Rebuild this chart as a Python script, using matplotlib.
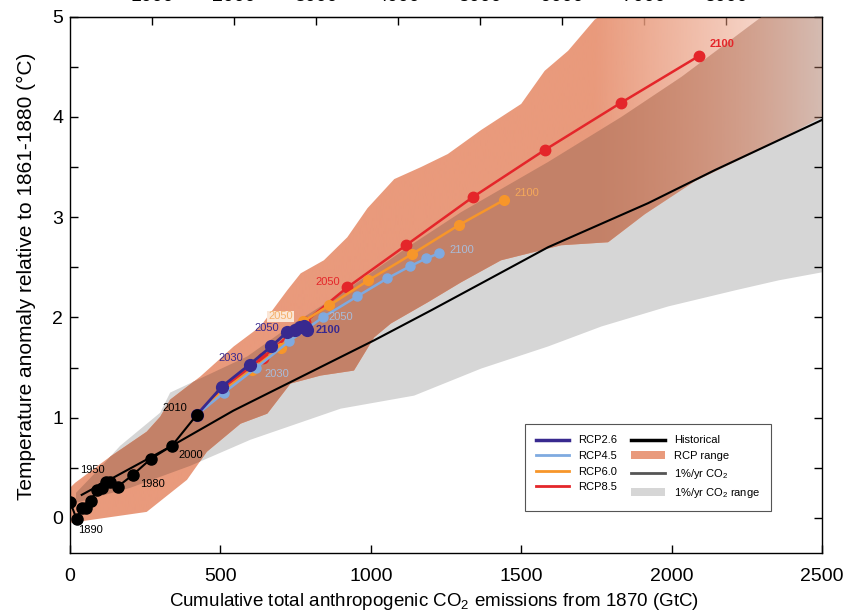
import numpy as np
import matplotlib.pyplot as plt
from matplotlib.lines import Line2D
from matplotlib.patches import Patch
from matplotlib.ticker import MultipleLocator

plt.rcParams['font.family'] = ['Liberation Sans', 'DejaVu Sans']
plt.rcParams['mathtext.default'] = 'regular'

# historical decadal points (GtC, degC)
hist_x = [0, 22, 39, 53, 69, 89, 106, 120, 133, 158, 209, 269, 339, 422]
hist_y = [0.16, -0.01, 0.10, 0.10, 0.17, 0.28, 0.30, 0.36, 0.36, 0.31, 0.43, 0.59, 0.72, 1.03]

# RCP scenarios, decades 2010-2100
rcp26_x = [422, 505, 597, 669, 720, 748, 765, 778, 785, 787]
rcp26_y = [1.03, 1.31, 1.53, 1.71, 1.85, 1.87, 1.90, 1.91, 1.89, 1.87]
rcp45_x = [422, 512, 620, 728, 840, 955, 1055, 1130, 1185, 1228]
rcp45_y = [1.03, 1.25, 1.50, 1.76, 2.00, 2.21, 2.39, 2.51, 2.59, 2.64]
rcp60_x = [422, 510, 605, 700, 775, 862, 992, 1136, 1292, 1442]
rcp60_y = [1.03, 1.27, 1.48, 1.70, 1.96, 2.12, 2.37, 2.63, 2.92, 3.17]
rcp85_x = [422, 510, 640, 780, 922, 1117, 1339, 1578, 1831, 2092]
rcp85_y = [1.03, 1.30, 1.60, 1.95, 2.30, 2.72, 3.20, 3.67, 4.14, 4.61]

# 1%/yr CO2 model mean
pct_x = [39, 339, 543, 1010, 1200, 1367, 1589, 1922, 2144, 2500]
pct_y = [0.23, 0.72, 1.07, 1.77, 2.07, 2.34, 2.70, 3.14, 3.47, 3.97]

# RCP range edges
rcp_hi_x = [0, 17, 133, 255, 300, 333, 433, 544, 633, 722, 767, 844, 922, 989, 1078, 1167,
            1256, 1367, 1500, 1578, 1656, 1744, 2500]
rcp_hi_y = [0.30, 0.35, 0.61, 0.86, 1.01, 1.18, 1.41, 1.71, 1.91, 2.27, 2.44, 2.57, 2.80, 3.09,
            3.38, 3.50, 3.63, 3.87, 4.13, 4.46, 4.66, 4.97, 6.5]
rcp_lo_x = [0, 139, 255, 389, 455, 567, 656, 733, 833, 944, 1011, 1067, 1189, 1300, 1433, 1633,
            1789, 1911, 2078, 2300, 2500]
rcp_lo_y = [-0.05, 0.01, 0.06, 0.38, 0.66, 0.94, 1.04, 1.34, 1.42, 1.47, 1.80, 1.94, 2.15, 2.35,
            2.57, 2.72, 2.75, 3.03, 3.36, 3.68, 4.00]

# 1%/yr CO2 range edges
pct_hi_x = [20, 100, 167, 300, 333, 411, 589, 744, 922, 1122, 1300, 1589, 1833, 2033, 2300, 2500]
pct_hi_y = [0.25, 0.50, 0.72, 1.05, 1.25, 1.36, 1.61, 1.94, 2.28, 2.70, 3.05, 3.55, 4.00, 4.40,
            5.00, 5.40]
pct_lo_x = [20, 200, 400, 600, 900, 1144, 1367, 1589, 1767, 1989, 2211, 2356, 2500]
pct_lo_y = [0.15, 0.30, 0.52, 0.78, 1.09, 1.22, 1.49, 1.71, 1.91, 2.11, 2.27, 2.37, 2.45]

top_ticks = [1000, 2000, 3000, 4000, 5000, 6000, 7000, 8000, 9000]
top_labels = ['1000', '2000', '3000', '4000', '5000', '6000', '7000', '8000', '']

c26 = '#38298F'
c45 = '#7FAAE0'
c60 = '#F7962A'
c85 = '#E4262A'
salmon = np.array([233, 154, 124]) / 255
grey = np.array([214, 214, 214]) / 255

fig = plt.figure(figsize=(8.52, 6.13), dpi=100)
ax = fig.add_axes([70 / 852, 1 - 553 / 613, 752 / 852, 536.3 / 613])

# grey plume
ax.fill(np.r_[pct_lo_x, pct_hi_x[::-1]], np.r_[pct_lo_y, pct_hi_y[::-1]],
        color=grey, lw=0, zorder=1)

# RCP plume, fading out towards the right
fade_x = np.linspace(0, 2500, 600)
fade = np.clip(1 - 0.8 * (fade_x - 1750) / 750, 0.2, 1)
poly_s = ax.fill(np.r_[rcp_lo_x, rcp_hi_x[::-1]], np.r_[rcp_lo_y, rcp_hi_y[::-1]],
                 facecolor='none', edgecolor='none')[0]
img = np.zeros((1, len(fade_x), 4))
img[..., :3] = salmon
img[..., 3] = fade
im = ax.imshow(img, extent=(0, 2500, -1, 7), aspect='auto', zorder=2, interpolation='bilinear')
im.set_clip_path(poly_s)

# overlap of the two plumes (multiplied colour)
xg = np.linspace(pct_lo_x[0], 2500, 1200)
lo = np.maximum(np.interp(xg, rcp_lo_x, rcp_lo_y), np.interp(xg, pct_lo_x, pct_lo_y))
hi = np.minimum(np.interp(xg, rcp_hi_x, rcp_hi_y), np.interp(xg, pct_hi_x, pct_hi_y))
hi = np.maximum(hi, lo)
poly_o = ax.fill_between(xg, lo, hi, facecolor='none', edgecolor='none')
img2 = img.copy()
img2[..., :3] = salmon * grey
im2 = ax.imshow(img2, extent=(0, 2500, -1, 7), aspect='auto', zorder=3, interpolation='bilinear')
im2.set_clip_path(poly_o.get_paths()[0], ax.transData)

ax.plot(pct_x, pct_y, color='black', lw=1.5, zorder=4)

ax.plot(rcp85_x, rcp85_y, '-o', color=c85, lw=1.8, ms=7.5, zorder=5)
ax.plot(rcp60_x, rcp60_y, '-o', color=c60, lw=1.8, ms=7, zorder=5.1)
ax.plot(rcp45_x, rcp45_y, '-o', color=c45, lw=1.8, ms=6.5, zorder=5.2)
ax.plot(rcp26_x, rcp26_y, '-o', color=c26, lw=2, ms=8.5, zorder=5.3)
ax.plot(hist_x, hist_y, '-o', color='black', lw=1.5, ms=8, zorder=6)

# year labels
fs = 8
ax.text(350, 1.10, '2010', fontsize=fs, ha='center', va='center', zorder=7)
ax.text(400, 0.63, '2000', fontsize=fs, ha='center', va='center', zorder=7)
ax.text(273, 0.34, '1980', fontsize=fs, ha='center', va='center', zorder=7)
ax.text(73, 0.48, '1950', fontsize=fs, ha='center', va='center', zorder=7)
ax.text(67, -0.12, '1890', fontsize=fs, ha='center', va='center', zorder=7)
ax.text(533, 1.60, '2030', fontsize=fs, color=c26, ha='center', va='center', zorder=7)
ax.text(653, 1.89, '2050', fontsize=fs, color=c26, ha='center', va='center', zorder=7)
ax.text(858, 1.87, '2100', fontsize=fs, color=c26, fontweight='bold', ha='center', va='center', zorder=7)
ax.text(687, 1.44, '2030', fontsize=fs, color='#A9BCD9', ha='center', va='center', zorder=7)
ax.text(900, 2.00, '2050', fontsize=fs, color='#A9BCD9', ha='center', va='center', zorder=7)
ax.text(1303, 2.67, '2100', fontsize=fs, color='#A9BCD9', ha='center', va='center', zorder=7)
ax.text(700, 2.01, '2050', fontsize=fs, color='#F5B06A', ha='center', va='center', zorder=7,
        bbox=dict(facecolor='#FBE6D6', edgecolor='none', pad=0.6))
ax.text(1517, 3.24, '2100', fontsize=fs, color='#F5A85A', ha='center', va='center', zorder=7)
ax.text(858, 2.35, '2050', fontsize=fs, color=c85, ha='center', va='center', zorder=7)
ax.text(2167, 4.73, '2100', fontsize=fs, color=c85, fontweight='bold', ha='center', va='center', zorder=7)

ax.set_xlim(0, 2500)
ax.set_ylim(-0.35, 5)
ax.set_xticks([0, 500, 1000, 1500, 2000, 2500])
ax.set_yticks([0, 1, 2, 3, 4, 5])
ax.yaxis.set_minor_locator(MultipleLocator(0.5))
ax.tick_params(axis='both', which='both', direction='in', length=6, width=1, labelsize=14)
ax.tick_params(axis='y', which='both', right=True, pad=5)
ax.tick_params(axis='x', pad=11)
for s in ax.spines.values():
    s.set_linewidth(1)

# top axis in GtCO2 (labels run off the top edge, as in the source image)
sec = ax.secondary_xaxis('top', functions=(lambda x: x * 3.667, lambda x: x / 3.667))
sec.set_xticks(top_ticks, labels=top_labels)
sec.tick_params(direction='in', length=6, width=1, labelsize=14, pad=8.5)

ax.set_xlabel('Cumulative total anthropogenic CO$_2$ emissions from 1870 (GtC)', fontsize=13.5)
ax.xaxis.set_label_coords(0.484, -0.071)
ax.set_ylabel('Temperature anomaly relative to 1861-1880 (°C)', fontsize=15)
ax.yaxis.set_label_coords(-0.045, 0.516)

handles = [Line2D([], [], color=c26, lw=2.5), Line2D([], [], color=c45, lw=2),
           Line2D([], [], color=c60, lw=2), Line2D([], [], color=c85, lw=2),
           Line2D([], [], color='black', lw=2.5), Patch(facecolor=salmon),
           Line2D([], [], color='#555555', lw=2), Patch(facecolor=grey)]
labels = ['RCP2.6', 'RCP4.5', 'RCP6.0', 'RCP8.5', 'Historical', 'RCP range',
          '1%/yr CO$_2$', '1%/yr CO$_2$ range']
leg = ax.legend(handles, labels, loc='lower left', bbox_to_anchor=(0.605, 0.078, 0.327, 0.155),
                mode='expand', ncol=2, fontsize=8, fancybox=False, framealpha=1,
                edgecolor='#555555', handlelength=3, labelspacing=0.5, borderpad=1.0,
                borderaxespad=0)
leg.get_frame().set_linewidth(0.8)
leg.set_zorder(8)

fig.savefig('out.png', dpi=100)
